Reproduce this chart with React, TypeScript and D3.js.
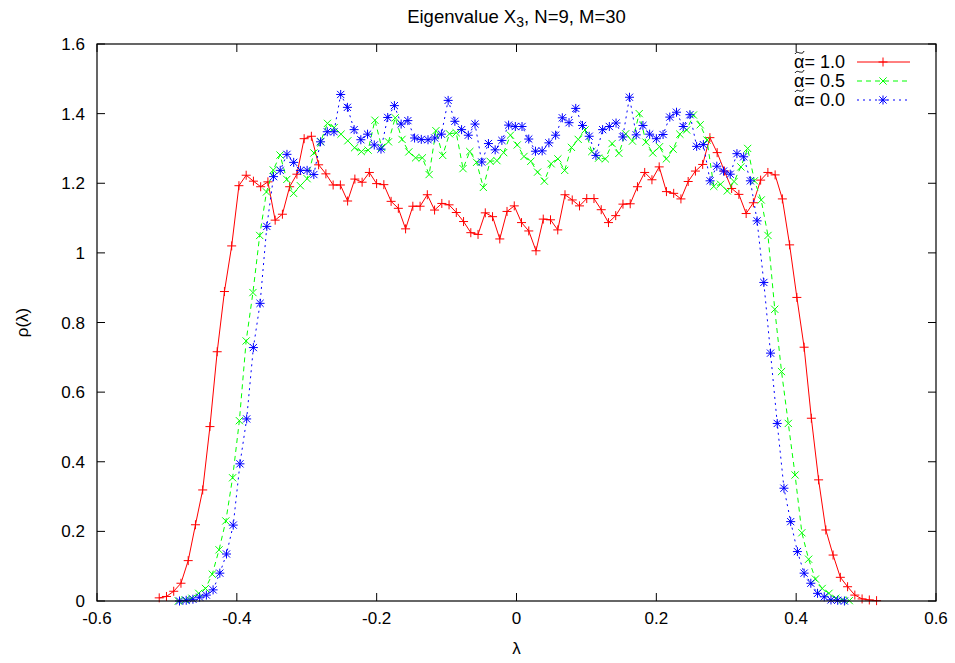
import React from "react";
import * as d3 from "d3";

// Histogram bin centres: first and last bin of each series
const redRange: [number, number] = [-0.511, 0.515];
const greenRange: [number, number] = [-0.4836, 0.476];
const blueRange: [number, number] = [-0.482, 0.469];

const redRho = [
  0.009, 0.013, 0.028, 0.051, 0.116, 0.219, 0.319, 0.501, 0.716, 0.889,
  1.020, 1.193, 1.223, 1.206, 1.190, 1.204, 1.094, 1.111, 1.190, 1.226,
  1.328, 1.335, 1.253, 1.227, 1.195, 1.195, 1.149, 1.212, 1.203, 1.231,
  1.199, 1.196, 1.148, 1.128, 1.069, 1.134, 1.134, 1.167, 1.123, 1.142,
  1.138, 1.116, 1.090, 1.058, 1.053, 1.115, 1.104, 1.040, 1.119, 1.135,
  1.087, 1.063, 1.006, 1.097, 1.095, 1.066, 1.167, 1.152, 1.135, 1.156,
  1.156, 1.124, 1.087, 1.107, 1.140, 1.141, 1.190, 1.231, 1.210, 1.247,
  1.176, 1.171, 1.155, 1.205, 1.235, 1.254, 1.331, 1.288, 1.235, 1.185,
  1.168, 1.113, 1.144, 1.209, 1.231, 1.224, 1.155, 1.023, 0.872, 0.729,
  0.525, 0.348, 0.204, 0.132, 0.068, 0.041, 0.017, 0.006, 0.003, 0.001,
];

const greenRho = [
  0.000, 0.003, 0.008, 0.022, 0.036, 0.077, 0.147, 0.230, 0.354, 0.518,
  0.747, 0.886, 1.050, 1.175, 1.238, 1.281, 1.211, 1.171, 1.193, 1.213,
  1.287, 1.320, 1.372, 1.360, 1.341, 1.322, 1.302, 1.291, 1.295, 1.381,
  1.303, 1.319, 1.388, 1.326, 1.290, 1.273, 1.273, 1.225, 1.351, 1.280,
  1.342, 1.345, 1.242, 1.291, 1.260, 1.188, 1.263, 1.265, 1.288, 1.338,
  1.310, 1.277, 1.263, 1.232, 1.206, 1.256, 1.270, 1.237, 1.303, 1.326,
  1.353, 1.291, 1.272, 1.270, 1.314, 1.286, 1.342, 1.321, 1.400, 1.318,
  1.287, 1.305, 1.270, 1.298, 1.341, 1.353, 1.396, 1.368, 1.324, 1.191,
  1.197, 1.178, 1.205, 1.247, 1.300, 1.207, 1.152, 1.050, 0.838, 0.659,
  0.510, 0.362, 0.196, 0.120, 0.063, 0.036, 0.022, 0.008, 0.003, 0.001,
];

const blueRho = [
  0.000, 0.002, 0.005, 0.011, 0.017, 0.032, 0.080, 0.135, 0.218, 0.394,
  0.523, 0.728, 0.855, 1.076, 1.219, 1.237, 1.283, 1.260, 1.237, 1.237,
  1.225, 1.319, 1.348, 1.348, 1.455, 1.418, 1.354, 1.325, 1.341, 1.310,
  1.298, 1.389, 1.423, 1.370, 1.380, 1.330, 1.326, 1.325, 1.330, 1.341,
  1.438, 1.378, 1.354, 1.338, 1.370, 1.261, 1.314, 1.296, 1.323, 1.367,
  1.363, 1.363, 1.327, 1.292, 1.293, 1.316, 1.338, 1.388, 1.374, 1.415,
  1.366, 1.335, 1.280, 1.354, 1.363, 1.373, 1.333, 1.447, 1.339, 1.366,
  1.341, 1.328, 1.340, 1.390, 1.404, 1.363, 1.397, 1.306, 1.311, 1.207,
  1.249, 1.235, 1.226, 1.285, 1.276, 1.207, 1.092, 0.915, 0.712, 0.510,
  0.324, 0.228, 0.142, 0.080, 0.051, 0.022, 0.012, 0.003, 0.002, 0.000,
];

const xTicks = [-0.6, -0.4, -0.2, 0, 0.2, 0.4, 0.6];
const xTickLabels = ["-0.6", "-0.4", "-0.2", "0", "0.2", "0.4", "0.6"];
const yTicks = [0, 0.2, 0.4, 0.6, 0.8, 1, 1.2, 1.4, 1.6];
const yTickLabels = ["0", "0.2", "0.4", "0.6", "0.8", "1", "1.2", "1.4", "1.6"];
const legendValues = ["1.0", "0.5", "0.0"];

const W = 955;
const H = 663;
const M = { left: 97, right: 19, top: 44, bottom: 62 };
const FONT = "'Liberation Sans', Arial, Helvetica, sans-serif";
const FS = 17;
const LFS = 18;

type Series = {
  rho: number[];
  range: [number, number];
  color: string;
  dash: string;
  marker: "plus" | "cross" | "star";
};

const seriesList: Series[] = [
  { rho: redRho, range: redRange, color: "#ff0000", dash: "none", marker: "plus" },
  { rho: greenRho, range: greenRange, color: "#00ff00", dash: "5,4", marker: "cross" },
  { rho: blueRho, range: blueRange, color: "#0000ff", dash: "2,4", marker: "star" },
];

const markerPath = (m: string) => {
  const p = 4.5;
  const c = 3.6;
  if (m === "plus") return `M${-p},0H${p}M0,${-p}V${p}`;
  if (m === "cross") return `M${-c},${-c}L${c},${c}M${-c},${c}L${c},${-c}`;
  return `M${-p},0H${p}M0,${-p}V${p}M${-c},${-c}L${c},${c}M${-c},${c}L${c},${-c}`;
};

export default function App() {
  const x = d3.scaleLinear().domain([-0.6, 0.6]).range([M.left, W - M.right]);
  const y = d3.scaleLinear().domain([0, 1.6]).range([H - M.bottom, M.top]);
  const x0 = M.left;
  const x1 = W - M.right;
  const y0 = H - M.bottom;
  const y1 = M.top;
  const tick = 8;

  const line = d3
    .line<[number, number]>()
    .x((d) => x(d[0]))
    .y((d) => y(d[1]));

  const seriesPts = seriesList.map((s) => {
    const bin = d3.scaleLinear().domain([0, s.rho.length - 1]).range(s.range);
    return s.rho.map((r, i) => [bin(i), r] as [number, number]);
  });

  const legendX = 845;
  const legendY0 = 62;
  const legendDy = 19;

  return (
    <svg
      width={W}
      height={H}
      style={{ position: "absolute", left: 0, top: 0, background: "#fff" }}
      fontFamily={FONT}
    >
      <rect x={0} y={0} width={W} height={H} fill="#fff" />
      {/* title */}
      <text x={(x0 + x1) / 2} y={23} textAnchor="middle" fontSize={18.5} fill="#000">
        Eigenvalue X
        <tspan fontSize={14} dy={4}>3</tspan>
        <tspan dy={-4}>, N=9, M=30</tspan>
      </text>

      {/* ticks */}
      {xTicks.map((t, i) => (
        <g key={"xt" + i}>
          <line x1={x(t)} x2={x(t)} y1={y0} y2={y0 - tick} stroke="#000" />
          <line x1={x(t)} x2={x(t)} y1={y1} y2={y1 + tick} stroke="#000" />
          <text x={x(t)} y={y0 + 23} textAnchor="middle" fontSize={FS}>
            {xTickLabels[i]}
          </text>
        </g>
      ))}
      {yTicks.map((t, i) => (
        <g key={"yt" + i}>
          <line x1={x0} x2={x0 + tick} y1={y(t)} y2={y(t)} stroke="#000" />
          <line x1={x1} x2={x1 - tick} y1={y(t)} y2={y(t)} stroke="#000" />
          <text x={x0 - 12} y={y(t) + 6} textAnchor="end" fontSize={FS}>
            {yTickLabels[i]}
          </text>
        </g>
      ))}

      {/* series */}
      {seriesList.map((s, si) => (
        <g key={"s" + si}>
          <path
            d={line(seriesPts[si]) || ""}
            fill="none"
            stroke={s.color}
            strokeWidth={1}
            strokeDasharray={s.dash}
          />
          {seriesPts[si].map((p, i) => (
            <path
              key={i}
              d={markerPath(s.marker)}
              transform={`translate(${x(p[0])},${y(p[1])})`}
              stroke={s.color}
              strokeWidth={1}
              fill="none"
            />
          ))}
        </g>
      ))}

      {/* border */}
      <rect x={x0} y={y1} width={x1 - x0} height={y0 - y1} fill="none" stroke="#000" strokeWidth={1.2} />

      {/* legend */}
      {seriesList.map((s, i) => {
        const ly = legendY0 + i * legendDy;
        const ax = legendX - 2.252 * LFS - 10.5; // left edge of alpha
        return (
          <g key={"lg" + i}>
            <text x={legendX} y={ly + 6} textAnchor="end" fontSize={LFS}>
              {"\u03b1= " + legendValues[i]}
            </text>
            <path
              d={`M${ax + 1},${ly - 8} C${ax + 3},${ly - 11} ${ax + 5},${ly - 9} ${ax + 6},${ly - 9} S${ax + 9},${ly - 8} ${ax + 10},${ly - 11}`}
              fill="none"
              stroke="#000"
              strokeWidth={1}
            />
            <line x1={857} x2={910} y1={ly} y2={ly} stroke={s.color} strokeDasharray={s.dash} />
            <path d={markerPath(s.marker)} transform={`translate(883,${ly})`} stroke={s.color} fill="none" />
          </g>
        );
      })}

      {/* axis labels */}
      <text x={(x0 + x1) / 2} y={654} textAnchor="middle" fontSize={FS}>
        {"\u03bb"}
      </text>
      <text transform={`translate(28,${(y0 + y1) / 2}) rotate(-90)`} textAnchor="middle" fontSize={FS}>
        {"\u03c1(\u03bb)"}
      </text>
    </svg>
  );
}
